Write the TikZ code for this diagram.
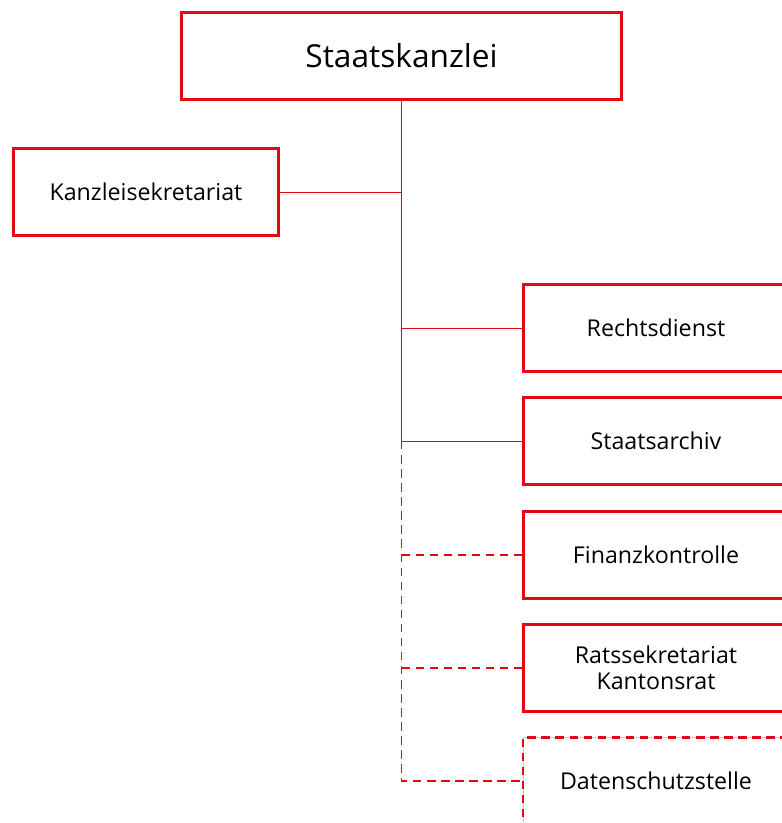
\documentclass[tikz,border=0pt]{standalone}
\usepackage{fontspec}
\setmainfont{Open Sans}
\definecolor{ktred}{RGB}{227,6,19}
\tikzstyle{unit}=[draw=ktred, line width=2.1pt, fill=white, minimum width=6.625cm, minimum height=2.17cm, align=center, font=\fontsize{16.5}{18.5}\selectfont]
\tikzstyle{head}=[unit, minimum width=11cm, font=\fontsize{22.5}{26}\selectfont]
\tikzstyle{link}=[draw=ktred, line width=0.7pt]
\tikzstyle{loose}=[link, line width=1.1pt, dash pattern=on 6pt off 4pt]

\begin{document}
\begin{tikzpicture}[x=0.025cm, y=-0.025cm]
				\clip (0,0) rectangle (782,823);
				\fill[white] (0,0) rectangle (782,823);
				\node[head] (staatskanzlei) at (401.5,56) {Staatskanzlei};
				\node[unit] (sekretariat) at (146,192) {Kanzleisekretariat};
				\node[unit] (rechtsdienst) at (656,328) {Rechtsdienst};
				\node[unit] (archiv) at (656,441) {Staatsarchiv};
				\node[unit] (finanz) at (656,555) {Finanzkontrolle};
				\node[unit] (rats) at (656,668) {Ratssekretariat\\Kantonsrat};
				\node[unit, draw=gray!40, line width=0.5pt] (datenschutz) at (656,781) {Datenschutzstelle};
				\draw[ktred, line width=1.8pt, dash pattern=on 6pt off 4pt] (datenschutz.north east) -- (datenschutz.north west) -- (datenschutz.south west);
				\coordinate (top) at (staatskanzlei.south -| 401.5,0);
				\draw[link] (top) -- (top |- archiv.west) -- (archiv.west);
				\draw[link] (top |- sekretariat.east) -- (sekretariat.east);
				\draw[link] (top |- rechtsdienst.west) -- (rechtsdienst.west);
				\draw[loose] (top |- archiv.west) -- (top |- datenschutz.west) -- (datenschutz.west);
				\draw[loose] (top |- finanz.west) -- (finanz.west);
				\draw[loose] (top |- rats.west) -- (rats.west);
			\end{tikzpicture}
\end{document}
